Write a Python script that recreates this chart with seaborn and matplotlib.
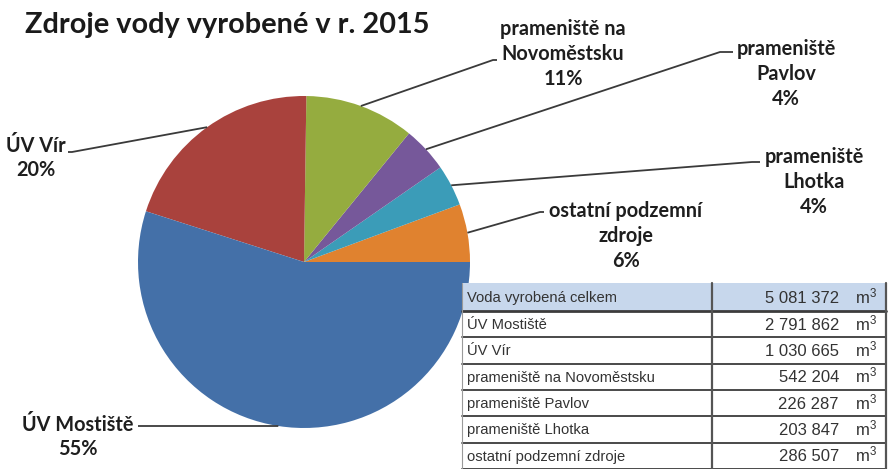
import matplotlib
matplotlib.use("Agg")
import matplotlib.pyplot as plt
import seaborn as sns
from matplotlib.patches import Rectangle
import numpy as np

# --- data (from the table under the chart) ---
table_labels = ["Voda vyrobená celkem", "ÚV Mostiště", "ÚV Vír",
                "prameniště na Novoměstsku", "prameniště Pavlov",
                "prameniště Lhotka", "ostatní podzemní zdroje"]
table_values = [5081372, 2791862, 1030665, 542204, 226287, 203847, 286507]

# pie order: counterclockwise from 3 o'clock
pie_labels = ["ostatní podzemní\nzdroje", "prameniště\nLhotka", "prameniště\nPavlov",
              "prameniště na\nNovoměstsku", "ÚV Vír", "ÚV Mostiště"]
pie_values = [286507, 203847, 226287, 542204, 1030665, 2791862]
pie_colors = ["#E0822F", "#3B9CB8", "#76589A", "#95AC3F", "#A9423D", "#4470A8"]

sns.set_style("white")
plt.rcParams["font.family"] = ["Lato", "DejaVu Sans"]
plt.rcParams["mathtext.fontset"] = "custom"
plt.rcParams["mathtext.rm"] = "Liberation Sans"
plt.rcParams["mathtext.default"] = "regular"

W, H = 889, 469
fig = plt.figure(figsize=(W / 100, H / 100), dpi=100)
ax = fig.add_axes([0, 0, 1, 1])


def py(y):
    return H - y


cx, cy, r = 304, 262, 166
wedges, _ = ax.pie(pie_values, colors=pie_colors, startangle=0, counterclock=True,
                   center=(cx, py(cy)), radius=r, wedgeprops=dict(linewidth=0))
ax.set_xlim(0, W)
ax.set_ylim(0, H)
ax.set_aspect("auto")
ax.axis("off")

total = sum(pie_values)
# label layout: text block centre, leader elbow points (pixel coords)
label_pos = [(626, 236), (814, 182), (786, 74), (563, 54), (36, 158), (78, 437)]
elbows = [[(540, 212), (544, 212)],
          [(752, 162), (760, 162)],
          [(720, 52), (733, 52)],
          [(493, 60), (497, 60)],
          [(72, 152), (68, 152)],
          [(138, 426)]]

for w, lab, v, (tx, ty), elb in zip(wedges, pie_labels, pie_values, label_pos, elbows):
    mid = np.deg2rad((w.theta1 + w.theta2) / 2)
    ex, ey = cx + r * np.cos(mid), py(cy) + r * np.sin(mid)
    xs = [ex] + [p[0] for p in elb]
    ys = [ey] + [py(p[1]) for p in elb]
    ax.plot(xs, ys, color="#3a3a3a", lw=1.3, solid_capstyle="butt")
    pct = round(v / total * 100)
    ax.text(tx, py(ty), f"{lab}\n{pct}%", ha="center", va="center", fontsize=14.3,
            fontweight="bold", color="#1e1e1e", linespacing=1.3)

ax.text(25, py(25), "Zdroje vody vyrobené v r. 2015", ha="left", va="center",
        fontsize=20.8, fontweight="bold", color="#1a1a1a")

# --- table ---
tx0, tx1, tdiv = 462, 886, 712
row_top = 283
row_h = [28] + [26.3] * 6
ax.add_patch(Rectangle((tx0, py(H)), tx1 - tx0 + 5, H - row_top, facecolor="white",
                       edgecolor="none", zorder=5))
tkw = dict(family="Liberation Sans", color="#333333", zorder=8)
y = row_top
for i, (lab, val) in enumerate(zip(table_labels, table_values)):
    h = row_h[i]
    if i == 0:
        ax.add_patch(Rectangle((tx0, py(y + h)), tx1 - tx0, h, facecolor="#C7D7EC",
                               edgecolor="none", zorder=6))
    yc = y + h / 2 + 1
    ax.text(tx0 + 5, py(yc), lab, ha="left", va="center", fontsize=10.6, **tkw)
    ax.text(839, py(yc), f"{val:,}".replace(",", " "), ha="right", va="center",
            fontsize=12, **tkw)
    ax.text(855, py(yc - 2), "m$^{3}$", ha="left", va="center", fontsize=12, **tkw)
    y += h
    ax.plot([tx0, tx1], [py(y), py(y)], color="#3c3c3c",
            lw=2.0 if i == 0 else 1.3, zorder=9)

ax.plot([tdiv, tdiv], [py(row_top), 0], color="#555555", lw=1.6, zorder=9)
ax.plot([tx1, tx1], [py(row_top), 0], color="#555555", lw=1.6, zorder=9)
ax.plot([tx0, tx0], [py(row_top), 0], color="#9a9a9a", lw=0.8, zorder=9)

fig.savefig("out.png", dpi=100)
